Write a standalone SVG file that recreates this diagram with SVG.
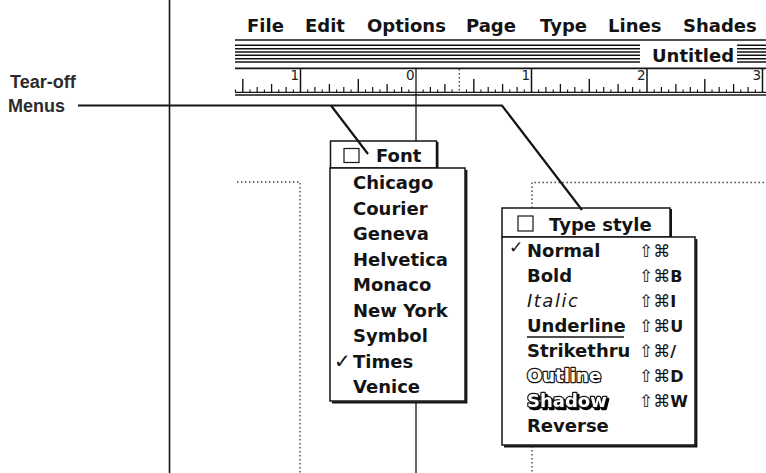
<svg xmlns="http://www.w3.org/2000/svg" width="766" height="473" viewBox="0 0 766 473">
<defs>
<style>
.m{font-family:"DejaVu Sans",sans-serif;font-weight:bold;font-size:18px;fill:#141414}
.ln{stroke:#141414;fill:none}
.dot{stroke:#3a3a3a;stroke-width:1.3;stroke-dasharray:1.4 2.6;fill:none}
.box{fill:#fff;stroke:#141414;stroke-width:1.5}
.sh{fill:none;stroke:#141414;stroke-width:2.2}
.sc{font-family:"DejaVu Sans",sans-serif;font-weight:normal;font-size:17px;fill:#141414}
.key{font-weight:bold;font-size:16px}
.num{font-family:"DejaVu Sans",sans-serif;font-size:13.5px;fill:#222;text-anchor:end}
.lbl{font-family:"Liberation Sans",Arial,sans-serif;font-weight:bold;font-size:18px;fill:#2b2b2b}
.it{font-family:"DejaVu Sans",sans-serif;font-weight:normal;font-style:italic;font-size:18px;fill:#141414;letter-spacing:1.5px}
.ol{font-family:"DejaVu Sans",sans-serif;font-weight:bold;font-size:18px;fill:#fff;stroke:#141414;stroke-width:2.4px;paint-order:stroke fill;stroke-linejoin:round}
.chk{font-family:"DejaVu Sans",sans-serif;font-weight:normal;fill:#141414}
</style>
<clipPath id="tsclip"><rect x="502" y="237" width="193" height="208"/></clipPath>
<filter id="shd" x="-5%" y="-20%" width="115%" height="150%">
<feOffset in="SourceAlpha" dx="1.8" dy="1.8" result="o"/>
<feMerge><feMergeNode in="o"/><feMergeNode in="SourceGraphic"/></feMerge>
</filter>
</defs>
<rect width="766" height="473" fill="#fff"/>

<g id="frame">
<line class="ln" x1="169.5" y1="0" x2="169.5" y2="473" stroke-width="1.6"/>
<line class="ln" x1="416" y1="68" x2="416" y2="141" stroke-width="1.3"/>
<line class="ln" x1="416" y1="402" x2="416" y2="473" stroke-width="1.3"/>
<path class="dot" d="M237,182 H300 V473"/>
<path class="dot" d="M532,208 V182.5 H766"/>
<path class="dot" d="M532,446 V473"/>
</g>

<g id="menubar">
<text class="m" y="32"><tspan x="247">File</tspan><tspan x="305">Edit</tspan><tspan x="367">Options</tspan><tspan x="466">Page</tspan><tspan x="540">Type</tspan><tspan x="608">Lines</tspan><tspan x="683">Shades</tspan></text>
</g>

<g id="titlebar">
<line class="ln" x1="235" y1="40" x2="766" y2="40" stroke-width="1.6"/>
<path class="ln" stroke-width="1.4" d="M235,45.3H640M235,48.7H640M235,52H640M235,55.3H640M235,58.7H640M235,62H640M737,45.3H766M737,48.7H766M737,52H766M737,55.3H766M737,58.7H766M737,62H766"/>
<text class="m" x="652" y="61.7">Untitled</text>
</g>

<g id="ruler">
<line class="ln" x1="235" y1="68.3" x2="766" y2="68.3" stroke-width="1.8"/>
<line class="ln" x1="235" y1="92.3" x2="766" y2="92.3" stroke-width="1.3"/>
<line class="ln" x1="235" y1="95" x2="766" y2="95" stroke-width="1.6"/>
<path class="ln" stroke-width="1.1" d="M235.5,92V89.5M250,92V89.5M264.4,92V89.5M278.8,92V89.5M293.3,92V89.5M307.7,92V89.5M322.2,92V89.5M336.6,92V89.5M351,92V89.5M365.5,92V89.5M379.9,92V89.5M394.3,92V89.5M408.8,92V89.5M423.2,92V89.5M437.7,92V89.5M452.1,92V89.5M466.5,92V89.5M481,92V89.5M495.4,92V89.5M509.8,92V89.5M524.3,92V89.5M538.7,92V89.5M553.2,92V89.5M567.6,92V89.5M582,92V89.5M596.5,92V89.5M610.9,92V89.5M625.3,92V89.5M639.8,92V89.5M654.2,92V89.5M668.7,92V89.5M683.1,92V89.5M697.5,92V89.5M712,92V89.5M726.4,92V89.5M740.8,92V89.5M755.3,92V89.5"/>
<path class="ln" stroke-width="1.2" d="M257.2,92V87M286.1,92V87M314.9,92V87M343.8,92V87M372.7,92V87M401.6,92V87M430.4,92V87M488.2,92V87M517.1,92V87M545.9,92V87M574.8,92V87M603.7,92V87M632.6,92V87M661.4,92V87M690.3,92V87M719.2,92V87M748.1,92V87"/>
<path class="ln" stroke-width="1.3" d="M271.6,92V84M329.4,92V84M387.1,92V84M444.9,92V84M502.6,92V84M560.4,92V84M618.1,92V84M675.9,92V84M733.6,92V84"/>
<path class="ln" stroke-width="1.4" d="M242.8,92V79M358.3,92V79M473.8,92V79M589.3,92V79M704.8,92V79"/>
<path class="ln" stroke-width="1.5" d="M300.5,92V68M531.5,92V68M647,92V68M762.5,92V68"/>
<line class="dot" x1="459.3" y1="69" x2="459.3" y2="92"/>
<text class="num" x="299" y="80">1</text>
<text class="num" x="414.5" y="80">0</text>
<text class="num" x="530" y="80">1</text>
<text class="num" x="645.5" y="80">2</text>
<text class="num" x="761" y="80">3</text>
</g>

<g id="label">
<text class="lbl" x="10" y="88">Tear-off</text>
<text class="lbl" x="8" y="111.5">Menus</text>
</g>

<g id="font-menu">
<rect class="box" x="330.5" y="141" width="106" height="27"/>
<line class="ln" x1="437.5" y1="142" x2="437.5" y2="168" stroke-width="2"/>
<rect class="box" x="330" y="168" width="135" height="233"/>
<path class="sh" d="M466.3,170V402.3H332"/>
<rect x="344" y="148.5" width="15" height="14" fill="#fff" stroke="#141414" stroke-width="1.2"/>
<text class="m" x="376" y="161.5">Font</text>
<text class="m" x="353"><tspan x="353" y="189">Chicago</tspan><tspan x="353" y="214.5">Courier</tspan><tspan x="353" y="240">Geneva</tspan><tspan x="353" y="265.5">Helvetica</tspan><tspan x="353" y="291">Monaco</tspan><tspan x="353" y="316.5">New York</tspan><tspan x="353" y="342">Symbol</tspan><tspan x="353" y="367.5">Times</tspan><tspan x="353" y="393">Venice</tspan></text>
<text class="chk" x="334" y="368" font-size="20">✓</text>
</g>

<g id="type-style-menu">
<rect class="box" x="502" y="208" width="168" height="29"/>
<line class="ln" x1="671" y1="209" x2="671" y2="237" stroke-width="2"/>
<rect class="box" x="502" y="237" width="193" height="208"/>
<path class="sh" d="M696.3,239V446.3H504"/>
<rect x="518" y="216" width="15" height="15" fill="#fff" stroke="#141414" stroke-width="1.2"/>
<text class="m" x="549" y="231">Type style</text>
<text class="chk" x="509" y="253" font-size="17">✓</text>
<g clip-path="url(#tsclip)">
<text class="m" x="527" y="257">Normal</text>
<text class="m" x="527" y="282">Bold</text>
<text class="it" x="527" y="307">Italic</text>
<text class="m" x="527" y="332">Underline</text>
<line class="ln" x1="527" y1="337" x2="624" y2="337" stroke-width="1.6"/>
<text class="m" x="527" y="357">Strikethru</text>
<text class="ol" x="527" y="382">Outline</text>
<text class="ol" x="527" y="407" filter="url(#shd)">Shadow</text>
<text class="m" x="527" y="432">Reverse</text>
<text class="sc" x="639" y="257">⇧⌘</text>
<text class="sc" x="639" y="282">⇧⌘<tspan class="key">B</tspan></text>
<text class="sc" x="639" y="307">⇧⌘<tspan class="key">I</tspan></text>
<text class="sc" x="639" y="332">⇧⌘<tspan class="key">U</tspan></text>
<text class="sc" x="639" y="357">⇧⌘<tspan class="key">/</tspan></text>
<text class="sc" x="639" y="382">⇧⌘<tspan class="key">D</tspan></text>
<text class="sc" x="639" y="407">⇧⌘<tspan class="key">W</tspan></text>
</g>
</g>

<g id="connectors">
<path class="ln" stroke-width="2.2" d="M78,105.5H502L582,210"/>
<path class="ln" stroke-width="2.2" d="M331,105.5L368,154"/>
</g>
</svg>
